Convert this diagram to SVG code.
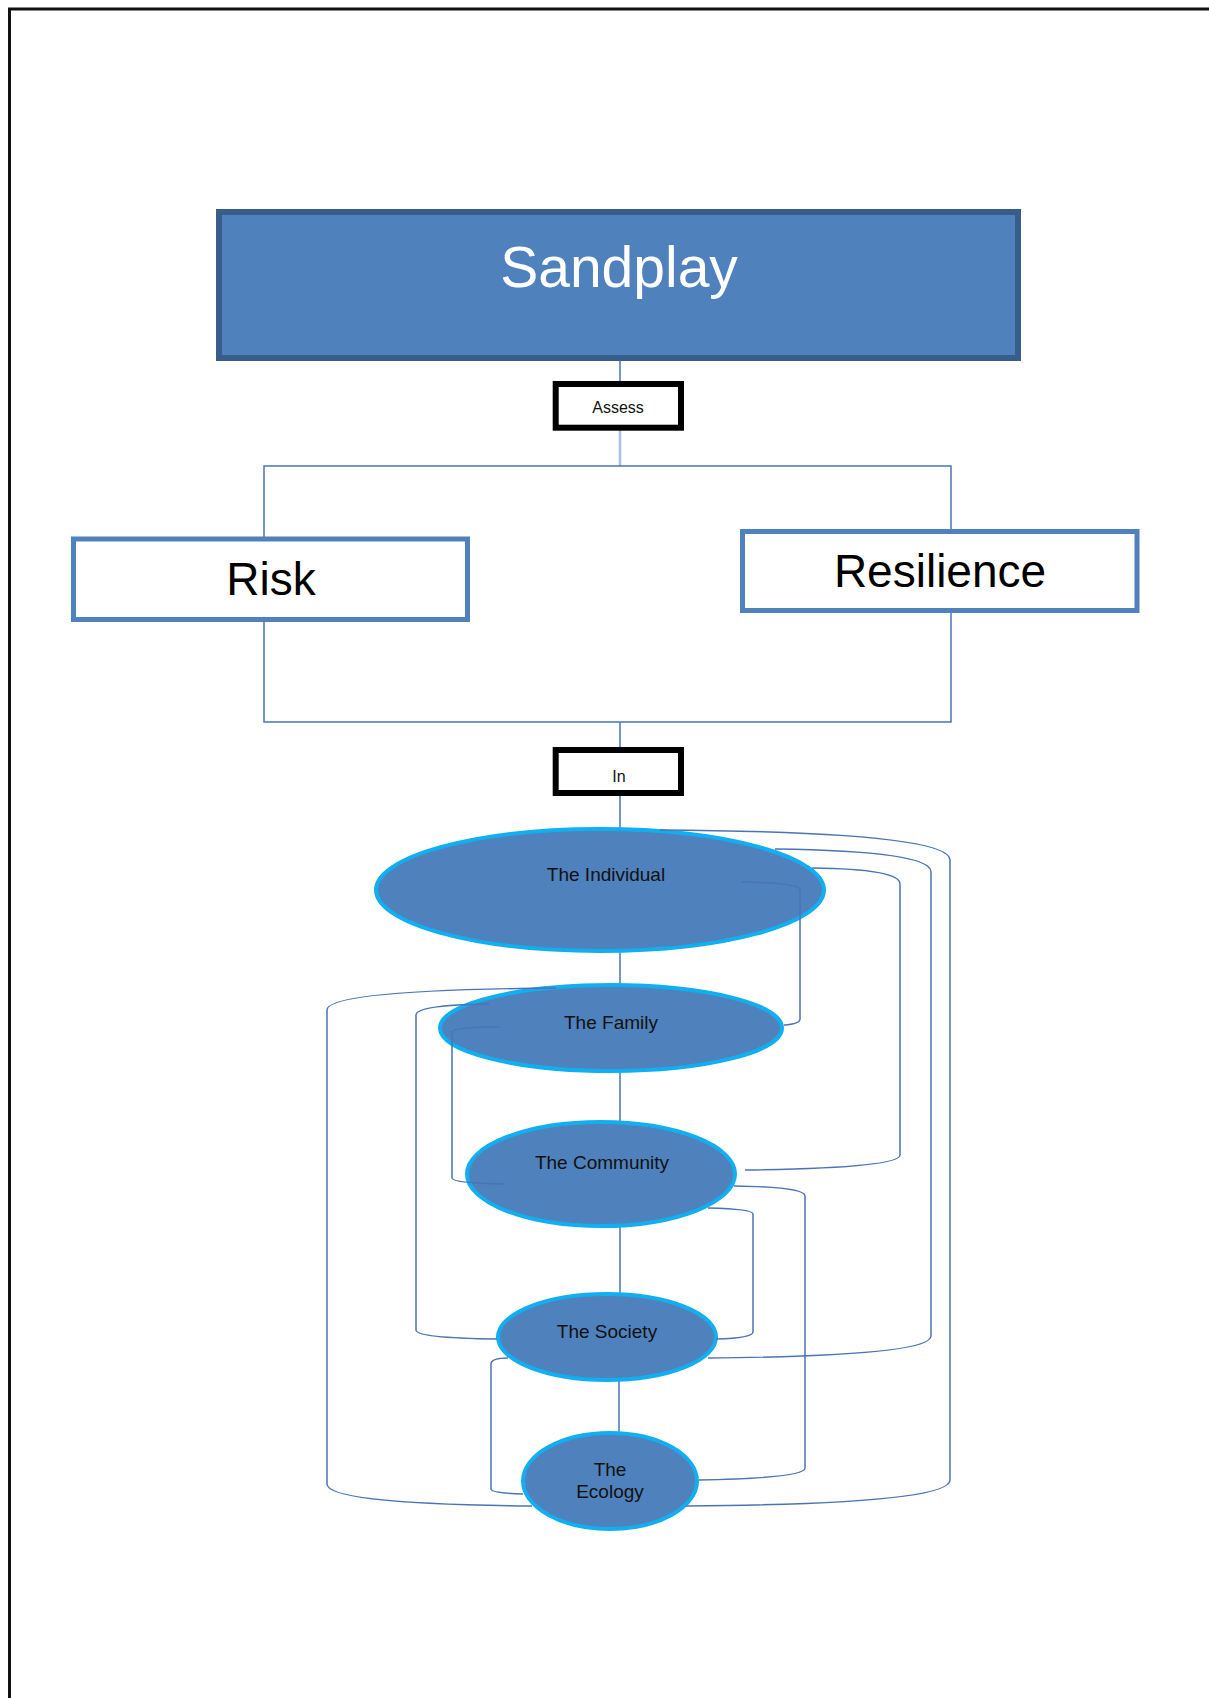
<svg xmlns="http://www.w3.org/2000/svg" width="1209" height="1698" viewBox="0 0 1209 1698">
<style>
.frame{fill:none;stroke:#111;stroke-width:3}
.conn{fill:none;stroke:#4a74b6;stroke-width:1.5}
.lite{fill:none;stroke:#a9bfe2;stroke-width:2.5}
.ell{fill:#4f81bd;stroke:#11aef0;stroke-width:4}
.lbl{fill:#fff;stroke:#000;stroke-width:6}
.side{fill:#fff;stroke:#4f81bd;stroke-width:5}
.et{font-family:'Liberation Sans',Arial,sans-serif;font-size:19px;fill:#111;text-anchor:middle}
.st{font-family:'Liberation Sans',Arial,sans-serif;font-size:16px;fill:#111;text-anchor:middle}
.bt{font-family:'Liberation Sans',Arial,sans-serif;font-size:46px;fill:#000;text-anchor:middle}
</style>
<rect width="1209" height="1698" fill="#fff"/>
<path class="frame" d="M9.5,1698 L9.5,9 L1209,9"/>

<g id="connectors">
<path class="conn" d="M620,361 L620,384"/>
<path class="lite" d="M620,430 L620,466"/>
<path class="conn" d="M264,537 L264,466 L951,466 L951,529"/>
<path class="conn" d="M264,622 L264,722 L951,722 L951,613"/>
<path class="conn" d="M620,722 L620,750"/>
<path class="conn" d="M620,796 L620,828"/>
<path class="conn" d="M620,952 L620,986"/>
<path class="conn" d="M620,1053 L620,1123"/>
<path class="conn" d="M620,1221 L620,1295"/>
<path class="conn" d="M619,1380 L619,1462"/>
</g>

<g id="sandplay">
<rect x="219" y="212" width="799" height="146" fill="#4f81bd" stroke="#385d8a" stroke-width="6"/>
<text x="619" y="287" font-family="'Liberation Sans',Arial,sans-serif" font-size="57" fill="#fff" text-anchor="middle">Sandplay</text>
</g>
<g id="assess">
<rect class="lbl" x="555.7" y="384" width="125.3" height="43.7"/>
<text class="st" x="618" y="413">Assess</text>
</g>
<g id="risk">
<rect class="side" x="73.5" y="539" width="394" height="80.5"/>
<text class="bt" x="271" y="595">Risk</text>
</g>
<g id="resilience">
<rect class="side" x="742.5" y="531.5" width="394.5" height="79"/>
<text class="bt" x="940" y="587">Resilience</text>
</g>
<g id="in">
<rect class="lbl" x="555.7" y="750" width="125.3" height="43"/>
<text class="st" x="619" y="782">In</text>
</g>

<g id="individual">
<ellipse class="ell" cx="600" cy="890" rx="224" ry="61"/>
<text class="et" x="606" y="881">The Individual</text>
</g>
<g id="family">
<ellipse class="ell" cx="611" cy="1028" rx="171" ry="43"/>
<text class="et" x="611" y="1029">The Family</text>
</g>
<g id="community">
<ellipse class="ell" cx="601" cy="1174" rx="134" ry="52"/>
<text class="et" x="602" y="1169">The Community</text>
</g>
<g id="society">
<ellipse class="ell" cx="607" cy="1337" rx="109" ry="43"/>
<text class="et" x="607" y="1338">The Society</text>
</g>
<g id="ecology">
<ellipse class="ell" cx="610" cy="1481" rx="87" ry="48"/>
<text class="et" x="610" y="1476" font-size="17">The</text>
<text class="et" x="610" y="1498" font-size="17">Ecology</text>
</g>

<g id="links">
<path class="conn" d="M660,830 Q950,832 950,860 L950,1480 Q950,1504 686,1506"/>
<path class="conn" d="M775,849 Q931,851 931,872 L931,1336 Q931,1356 708,1358"/>
<path class="conn" d="M812,868 Q900,869 900,884 L900,1155 Q900,1168 745,1170"/>
<path class="conn" d="M742,882 Q800,883 800,890 L800,1019 Q800,1024 784,1025"/>
<path class="conn" d="M556,988 Q327,990 327,1010 L327,1484 Q327,1504 532,1506"/>
<path class="conn" d="M489,1004 Q416,1005 416,1015 L416,1330 Q416,1338 497,1339"/>
<path class="conn" d="M500,1027 Q452,1027 452,1032 L452,1178 Q452,1183 504,1184"/>
<path class="conn" d="M734,1186 Q805,1187 805,1196 L805,1468 Q805,1478 699,1480"/>
<path class="conn" d="M708,1208 Q753,1209 753,1214 L753,1332 Q753,1338 716,1339"/>
<path class="conn" d="M508,1358 Q491,1358 491,1364 L491,1489 Q491,1493 523,1494"/>
</g>
</svg>
